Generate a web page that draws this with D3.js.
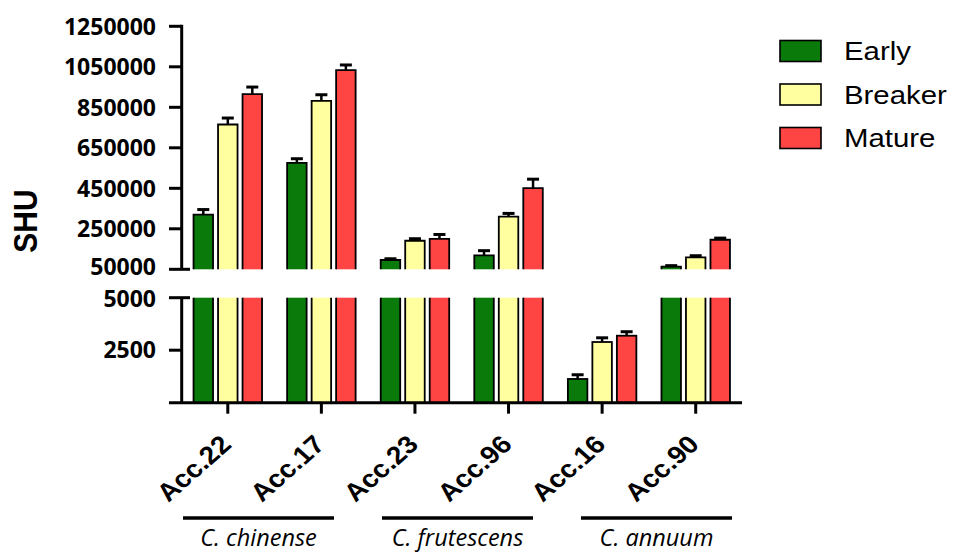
<!DOCTYPE html>
<html>
<head>
<meta charset="utf-8">
<script src="https://cdn.jsdelivr.net/npm/d3@7"></script>
<style>
  body { margin: 0; background: #fff; }
  svg { display: block; }
</style>
</head>
<body>
<div id="chart"></div>
<script>
const accessions = ["Acc.22", "Acc.17", "Acc.23", "Acc.96", "Acc.16", "Acc.90"]
const stages = ["Early", "Breaker", "Mature"]
const early = [320000, 576000, 96000, 119000, 1130, 63000]
const earlyErr = [25000, 20000, 6000, 23000, 200, 5000]
const breaker = [765000, 882000, 191000, 310000, 2890, 109000]
const breakerErr = [32000, 30000, 10000, 16000, 200, 8000]
const mature = [915000, 1034000, 200000, 451000, 3190, 196000]
const matureErr = [35000, 25000, 22000, 44000, 190, 8000]
const topTicks = [50000, 250000, 450000, 650000, 850000, 1050000, 1250000]
const bottomTicks = [2500, 5000]
const species = ["C. chinense", "C. frutescens", "C. annuum"]

const colors = ["#0a7a0a", "#ffff9f", "#ff4444"]

const width = 953, height = 555
const svg = d3.select("#chart").append("svg")
  .attr("width", width)
  .attr("height", height)

// broken y axis: two linear pieces
const yTop = d3.scaleLinear().domain([50000, 1250000]).range([269.3, 26.3])
const yBot = d3.scaleLinear().domain([0, 5000]).range([402.7, 297.7])
const axisX = 181.7

const x = d3.scaleBand().domain(accessions).range([181, 742.5]).padding(0)
const xs = d3.scalePoint().domain(stages).range([-24.5, 24.5])
const barW = 19.5

const series = [early, breaker, mature]
const errs = [earlyErr, breakerErr, matureErr]
const bars = []
accessions.forEach((a, i) => {
  stages.forEach((s, j) => {
    bars.push({ acc: a, stage: s, value: series[j][i], err: errs[j][i], color: colors[j] })
  })
})

const gBars = svg.append("g")
bars.forEach(d => {
  const cx = x(d.acc) + x.bandwidth() / 2 + xs(d.stage)
  const x0 = cx - barW / 2, x1 = cx + barW / 2
  if (d.value < 5000) {
    const yt = yBot(d.value), yb = yBot(0)
    gBars.append("rect").attr("x", x0).attr("y", yt).attr("width", barW).attr("height", yb - yt)
      .attr("fill", d.color).attr("stroke", "#000").attr("stroke-width", 1.8)
    drawErr(cx, yt, yBot(d.value + d.err))
  } else {
    // lower piece, sides only
    const yt = yBot(5000), yb = yBot(0)
    gBars.append("rect").attr("x", x0).attr("y", yt).attr("width", barW).attr("height", yb - yt)
      .attr("fill", d.color)
    gBars.append("path").attr("d", `M${x0},${yt}V${yb}M${x1},${yt}V${yb}`)
      .attr("fill", "none").attr("stroke", "#000").attr("stroke-width", 1.8)
    // upper piece, sides and top
    const ut = yTop(d.value), ub = yTop(50000)
    gBars.append("rect").attr("x", x0).attr("y", ut).attr("width", barW).attr("height", ub - ut)
      .attr("fill", d.color)
    gBars.append("path").attr("d", `M${x0},${ub}V${ut}H${x1}V${ub}`)
      .attr("fill", "none").attr("stroke", "#000").attr("stroke-width", 1.8)
    drawErr(cx, ut, yTop(d.value + d.err))
  }
})

function drawErr(cx, y0, y1) {
  gBars.append("line").attr("x1", cx).attr("x2", cx).attr("y1", y0).attr("y2", y1)
    .attr("stroke", "#000").attr("stroke-width", 2.5)
  gBars.append("line").attr("x1", cx - 6).attr("x2", cx + 6).attr("y1", y1).attr("y2", y1)
    .attr("stroke", "#000").attr("stroke-width", 3)
}

// y axes
const axisG = svg.append("g").attr("stroke", "#000").attr("stroke-width", 3).attr("fill", "none")
axisG.append("line").attr("x1", axisX).attr("x2", axisX).attr("y1", yTop(1250000) - 1.5).attr("y2", yTop(50000))
axisG.append("line").attr("x1", axisX).attr("x2", axisX).attr("y1", yBot(5000)).attr("y2", yBot(0))
topTicks.forEach(t => {
  axisG.append("line").attr("x1", 169).attr("x2", t === 50000 ? 190 : axisX).attr("y1", yTop(t)).attr("y2", yTop(t))
})
bottomTicks.forEach(t => {
  axisG.append("line").attr("x1", 169).attr("x2", t === 5000 ? 190 : axisX).attr("y1", yBot(t)).attr("y2", yBot(t))
})

const tickFont = "'Open Sans', sans-serif"
svg.append("g").selectAll("text").data(topTicks).join("text")
  .attr("x", 156).attr("y", d => yTop(d) - (d === 50000 ? 3 : 0)).attr("dy", "0.36em")
  .attr("text-anchor", "end").attr("font-family", tickFont).attr("font-weight", "bold")
  .attr("font-size", 23).text(d => d)
svg.append("g").selectAll("text").data(bottomTicks).join("text")
  .attr("x", 156).attr("y", d => yBot(d) + (d === 5000 ? 1 : 0)).attr("dy", "0.36em")
  .attr("text-anchor", "end").attr("font-family", tickFont).attr("font-weight", "bold")
  .attr("font-size", 23).text(d => d)

// x axis
axisG.append("line").attr("x1", 169).attr("x2", 742).attr("y1", yBot(0)).attr("y2", yBot(0))
accessions.forEach(a => {
  const cx = x(a) + x.bandwidth() / 2
  axisG.append("line").attr("x1", cx).attr("x2", cx).attr("y1", yBot(0)).attr("y2", yBot(0) + 11)
})

svg.append("g").selectAll("text").data(accessions).join("text")
  .attr("transform", d => `translate(${x(d) + x.bandwidth() / 2 + 5},446) scale(1.13,1) rotate(-45)`)
  .attr("text-anchor", "end")
  .attr("font-family", "'Liberation Sans', Arial, sans-serif").attr("font-weight", "bold")
  .attr("font-size", 25).text(d => d)

// species annotation
const sp = d3.scaleBand().domain(species).range([183, 732]).paddingInner(0.241).paddingOuter(0)
svg.append("g").selectAll("line").data(species).join("line")
  .attr("x1", d => sp(d)).attr("x2", d => sp(d) + sp.bandwidth())
  .attr("y1", 518).attr("y2", 518).attr("stroke", "#000").attr("stroke-width", 3.5)
svg.append("g").selectAll("text").data(species).join("text")
  .attr("x", d => sp(d) + sp.bandwidth() / 2).attr("y", 546)
  .attr("text-anchor", "middle").attr("font-family", "'Open Sans', sans-serif")
  .attr("font-style", "italic").attr("font-size", 23.5).text(d => d)

// y label
svg.append("text")
  .attr("transform", "translate(37,221) scale(1.13,1) rotate(-90)")
  .attr("text-anchor", "middle")
  .attr("font-family", "'Liberation Sans', Arial, sans-serif").attr("font-weight", "bold")
  .attr("font-size", 30).text("SHU")

// legend
const lg = svg.append("g").selectAll("g").data(stages).join("g")
  .attr("transform", (d, i) => `translate(780,${51 + i * 43.5})`)
lg.append("rect").attr("x", 0).attr("y", -10.5).attr("width", 41).attr("height", 21)
  .attr("fill", (d, i) => colors[i]).attr("stroke", "#000").attr("stroke-width", 1.6)
lg.append("text").attr("transform", "translate(64,0) scale(1.13,1)").attr("dy", "0.36em")
  .attr("font-family", "'Liberation Sans', Arial, sans-serif").attr("font-size", 26)
  .text(d => d)
</script>
</body>
</html>
